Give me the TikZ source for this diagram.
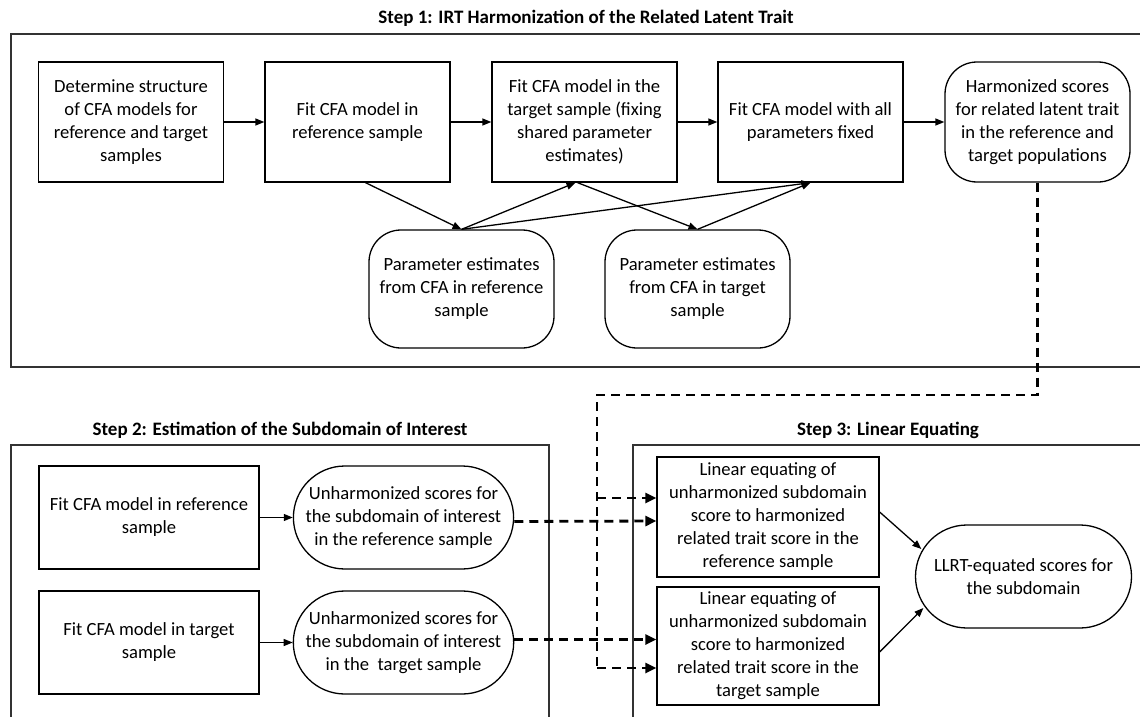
\documentclass[tikz,border=0pt]{standalone}
\usepackage{fontspec}
\setmainfont{Carlito}
\usetikzlibrary{arrows.meta,calc,shapes.misc}
\begin{document}
\begin{tikzpicture}[x=1pt,y=-1pt,
  every node/.style={font=\fontsize{18.6}{23}\selectfont, align=center, inner sep=2pt},
  box/.style={draw, line width=1.3pt, minimum width=185pt, minimum height=120pt},
  rbox/.style={box, rounded corners=32pt},
  sbox/.style={draw, line width=1.3pt, rounded rectangle, minimum width=220pt, minimum height=103pt},
  frame/.style={draw, line width=1.3pt, black!80},
  title/.style={font=\bfseries\fontsize{19}{22}\selectfont},
  arr/.style={line width=1.3pt, -{Triangle[length=9pt,width=7pt]}},
  darr/.style={line width=2.8pt, dash pattern=on 9pt off 6pt, -{Triangle[length=11pt,width=10pt]}},
  dline/.style={line width=2.8pt, dash pattern=on 9pt off 6pt}
]
\useasboundingbox (0,0) rectangle (1140,717);
\clip (0,0) rectangle (1140,717);
% frames
\draw[frame] (11,34) rectangle (1160,367);
\draw[frame] (11,445) rectangle (549,740);
\draw[frame] (633,445) rectangle (1143,740);
\node[title] (t1) at (586,18) {Step 1: IRT Harmonization of the Related Latent Trait};
\node[title] (t2) at (280,430) {Step 2: Estimation of the Subdomain of Interest};
\node[title] (t3) at (888,430) {Step 3: Linear Equating};
% step 1
\node[box] (A) at (131,122) {Determine structure\\of CFA models for\\reference and target\\samples};
\node[box] (B) at (357.5,122) {Fit CFA model in\\reference sample};
\node[box] (C) at (584.5,122) {Fit CFA model in the\\target sample (fixing\\shared parameter\\estimates)};
\node[box] (D) at (810.5,122) {Fit CFA model with all\\parameters fixed};
\node[rbox] (E) at (1037.5,122) {Harmonized scores\\for related latent trait\\in the reference and\\target populations};
\node[rbox, minimum height=118pt] (P1) at (461.5,289) {Parameter estimates\\from CFA in reference\\sample};
\node[rbox, minimum height=118pt] (P2) at (697.5,289) {Parameter estimates\\from CFA in target\\sample};
\draw[arr] (A) -- (B);
\draw[arr] (B) -- (C);
\draw[arr] (C) -- (D);
\draw[arr] (D) -- (E);
\draw[arr] ($(B.south)+(8,0)$) -- (P1.north);
\draw[arr] (P1.north) -- ($(C.south)+(-9,0)$);
\draw[arr] (P1.north) -- (D.south);
\draw[arr] ($(C.south)+(-7,0)$) -- (P2.north);
\draw[arr] (P2.north) -- (D.south);
% step 2
\node[box, minimum width=220pt, minimum height=103pt] (F1) at (149,517.5) {Fit CFA model in reference\\sample};
\node[sbox] (G1) at (403.5,517.5) {Unharmonized scores for\\the subdomain of interest\\in the reference sample};
\node[box, minimum width=220pt, minimum height=103pt] (F2) at (149,642.5) {Fit CFA model in target\\sample};
\node[sbox] (G2) at (403.5,642.5) {Unharmonized scores for\\the subdomain of interest\\in the\ \ target sample};
\draw[arr] (F1) -- (G1);
\draw[arr] (F2) -- (G2);
% step 3
\node[box, minimum width=222pt, minimum height=120pt] (H1) at (768,517) {Linear equating of\\unharmonized subdomain\\score to harmonized\\related trait score in the\\reference sample};
\node[box, minimum width=222pt, minimum height=118pt] (H2) at (768,646) {Linear equating of\\unharmonized subdomain\\score to harmonized\\related trait score in the\\target sample};
\node[sbox] (L) at (1023.5,576.5) {LLRT-equated scores for\\the subdomain};
\draw[arr] ($(H1.east)+(0,-5)$) -- ($(L.west)+(6.5,-27.5)$);
\draw[arr] ($(H2.east)+(0,6)$) -- ($(L.west)+(8.5,31.5)$);
% dashed connectors
\coordinate (d1) at (597,395);
\coordinate (d2) at (597,668);
\coordinate (d3) at (597,498);
\draw[dline] (E.south) |- (d1) -- (d2);
\draw[darr] (d2) -- (H2.west |- d2);
\draw[darr] (d3) -- (H1.west |- d3);
\draw[darr] ($(G1.east)+(0,4)$) -- ($(H1.west)+(0,4)$);
\draw[darr] ($(G2.east)+(0,-3)$) -- ($(H2.west |- G2.east)+(0,-3)$);
\end{tikzpicture}
\end{document}
